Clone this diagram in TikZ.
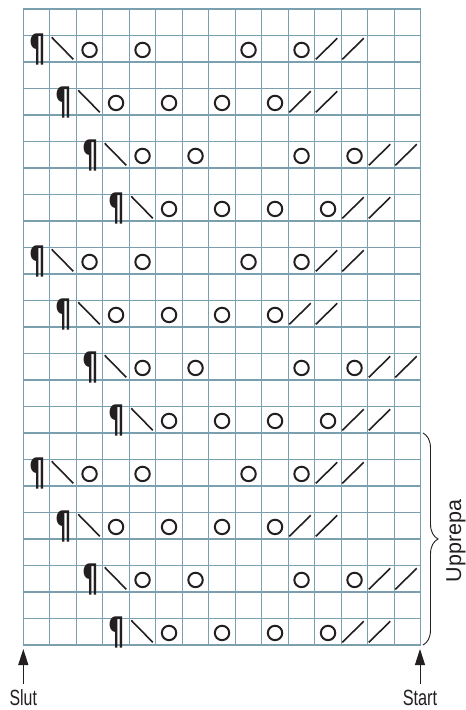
\documentclass[tikz,border=0pt]{standalone}
\usepackage{fontspec}
\setmainfont{Liberation Sans}
\newfontfamily\pilfont{DejaVu Sans}
\usetikzlibrary{arrows.meta,decorations.pathreplacing}
\definecolor{gridc}{RGB}{122,160,175}
\definecolor{ink}{RGB}{35,31,32}
\newcommand\knitrow[5]{%
  % #1 row name, #2 row index from top, #3 pilcrow column, #4 circle columns, #5 first slash column
  \node[pil] (#1p) at ({23.3+26.5*(#3-0.5)+1},{9+26.5*(#2-0.5)+1.2}) {\scalebox{1.12}[1.65]{¶}};
  \draw[dec] ({23.3+26.5*(#3)+1.9},{9+26.5*(#2-1)+1.8}) -- ({23.3+26.5*(#3+1)-3},{9+26.5*(#2)-2.7});
  \foreach \c in {#4} {\node[yo] (#1o\c) at ({23.3+26.5*(\c-0.5)},{9+26.5*(#2-0.5)+1.2}) {};}
  \foreach \s in {#5,\the\numexpr#5+1\relax} {\draw[dec] ({23.3+26.5*(\s-1)+1},{9+26.5*(#2)-2.7}) -- ({23.3+26.5*(\s)-4},{9+26.5*(#2-1)+2.8});}
}
\begin{document}
\begin{tikzpicture}[x=1pt,y=-1pt,
  gridline/.style={draw=gridc,line width=1.1pt},
  yo/.style={circle,draw=ink,line width=2pt,minimum size=14.4pt,inner sep=0pt},
  pil/.style={font=\pilfont\fontsize{23}{23}\selectfont\bfseries,text=ink,inner sep=0pt},
  dec/.style={draw=ink,line width=1.6pt},
  lbl/.style={font=\fontsize{22}{22}\selectfont,text=ink,inner sep=0pt},
  arr/.style={draw=ink,line width=1pt,-{Triangle[length=16pt,width=10pt]}},
  bracestyle/.style={draw=ink,line width=0.9pt,decorate,decoration={brace,amplitude=15pt}}
]
\useasboundingbox (0,0) rectangle (466,710);
\fill[white] (0,0) rectangle (466,710);
% grid
\foreach \i in {0,...,15} \draw[gridline] ({23.3+\i*26.5},9) -- ({23.3+\i*26.5},645);
\foreach \j in {0,...,24} \draw[gridline] (23.3,{9+\j*26.5}) -- (420.8,{9+\j*26.5});
% pattern rows
\knitrow{ra}{2}{1}{3,5,9,11}{12}
\knitrow{rb}{4}{2}{4,6,8,10}{11}
\knitrow{rc}{6}{3}{5,7,11,13}{14}
\knitrow{rd}{8}{4}{6,8,10,12}{13}
\knitrow{re}{10}{1}{3,5,9,11}{12}
\knitrow{rf}{12}{2}{4,6,8,10}{11}
\knitrow{rg}{14}{3}{5,7,11,13}{14}
\knitrow{rh}{16}{4}{6,8,10,12}{13}
\knitrow{ri}{18}{1}{3,5,9,11}{12}
\knitrow{rj}{20}{2}{4,6,8,10}{11}
\knitrow{rk}{22}{3}{5,7,11,13}{14}
\knitrow{rl}{24}{4}{6,8,10,12}{13}
% brace and label
\coordinate (bTop) at (423,433);
\coordinate (bBot) at (423,645);
\draw[bracestyle] (bTop) -- (bBot);
\node[font=\fontsize{21.5}{21.5}\selectfont,text=ink,inner sep=0pt,rotate=90,anchor=base] (upp) at (461,541) {Upprepa};
% arrows and labels
\coordinate (slutTail) at (23.3,684);
\coordinate (slutTip) at (23.3,649);
\draw[arr] (slutTail) -- (slutTip);
\coordinate (startTail) at (420,684);
\coordinate (startTip) at (420,649);
\draw[arr] (startTail) -- (startTip);
\node[lbl,anchor=base] (slut) at (23.3,705) {\scalebox{0.72}[1]{Slut}};
\node[lbl,anchor=base] (start) at (420,705) {\scalebox{0.74}[1]{Start}};
\end{tikzpicture}
\end{document}
